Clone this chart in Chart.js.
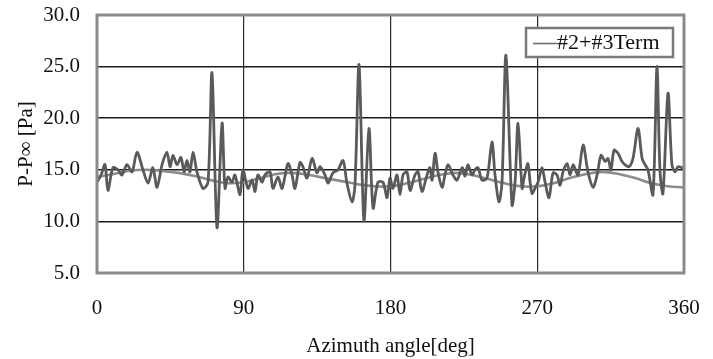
<!DOCTYPE html>
<html>
<head>
<meta charset="utf-8">
<script src="https://cdn.jsdelivr.net/npm/chart.js@4.4.0/dist/chart.umd.min.js"></script>
<style>
  html, body { margin: 0; padding: 0; background: #fff; }
</style>
</head>
<body>
<canvas id="chartCanvas" width="713" height="359"></canvas>
<script>
// measured pressure around the rotor, azimuth in degrees
const noisyAngle = [0, 2.5, 4.9, 6.7, 9.8, 12.9, 15.3, 18.4, 21.5, 24.5, 28.2, 31.3, 34.3, 36.8, 39.9, 42.9, 44.8, 46.6, 49.1, 51.5,
  53.4, 55.2, 57.0, 58.9, 61.3, 65.0, 68.1, 70.5, 73.6, 76.7, 78.5, 80.3, 82.8, 84.6, 87.7, 89.5, 92.6, 95.1, 96.9, 98.7,
  101.2, 103.0, 106.1, 107.9, 111.0, 113.5, 117.1, 119.6, 121.4, 124.5, 126.3, 128.8, 131.9, 134.9, 136.8, 139.8, 141.7, 144.7, 147.8, 150.9,
  153.3, 156.4, 158.2, 160.7, 163.7, 166.8, 169.3, 172.3, 175.4, 177.9, 179.7, 181.5, 184.0, 185.8, 187.7, 190.1, 192.0, 195.0, 196.9, 199.3,
  202.4, 204.2, 205.5, 207.3, 209.1, 211.6, 213.4, 215.3, 218.3, 220.8, 223.9, 225.7, 227.5, 230.0, 231.8, 233.7, 236.1, 239.2, 242.2, 244.1,
  246.5, 248.4, 250.8, 254.5, 256.4, 258.2, 260.7, 261.9, 264.3, 265.6, 266.8, 268.6, 270.5, 272.9, 274.8, 277.2, 279.7, 282.1, 284.0, 285.8,
  288.3, 290.1, 292.0, 295.0, 298.1, 301.1, 304.2, 306.7, 309.1, 311.6, 313.4, 315.2, 317.1, 319.5, 322.0, 323.8, 326.3, 328.7, 331.8, 334.3,
  336.1, 337.9, 341.0, 343.4, 345.3, 347.1, 350.2, 352.6, 354.5, 356.3, 358.8, 360];
const noisyValue = [13.8, 14.5, 15.5, 13.0, 15.2, 15.0, 14.5, 15.5, 14.8, 16.7, 15.0, 13.7, 15.2, 13.3, 15.5, 16.7, 15.3, 16.4, 15.5, 16.2,
  14.8, 15.9, 14.8, 16.7, 14.8, 13.2, 13.8, 24.4, 9.4, 19.5, 13.2, 14.3, 13.8, 14.5, 12.6, 15.0, 13.2, 14.0, 12.9, 14.5,
  13.8, 14.5, 14.8, 13.2, 14.3, 13.2, 15.6, 14.5, 13.2, 15.7, 15.3, 14.2, 16.1, 14.7, 15.3, 14.5, 13.7, 14.7, 15.0, 15.9,
  13.7, 11.9, 13.5, 25.2, 10.1, 19.0, 11.3, 13.8, 13.8, 12.3, 14.2, 13.2, 14.5, 12.6, 14.5, 14.8, 13.0, 14.5, 14.8, 12.9,
  14.5, 15.2, 14.0, 16.6, 14.8, 13.3, 14.5, 15.5, 14.5, 14.0, 15.2, 14.4, 15.5, 14.5, 15.0, 15.2, 14.0, 14.2, 17.7, 14.5,
  11.9, 13.8, 26.1, 11.6, 13.8, 19.5, 13.2, 14.2, 15.6, 13.8, 12.7, 13.2, 13.8, 15.2, 13.8, 12.3, 14.7, 14.5, 13.5, 14.8,
  15.6, 14.5, 15.5, 14.5, 17.4, 14.8, 13.3, 14.5, 16.4, 15.8, 16.1, 15.0, 16.9, 16.6, 15.8, 15.5, 15.3, 16.1, 19.0, 16.1,
  15.5, 15.0, 12.6, 25.0, 14.8, 12.7, 22.4, 15.5, 14.8, 15.3, 15.2, 15.0];

// harmonic fit (#2 + #3 terms)
const termAngle = [0, 10, 20, 30, 40, 50, 60, 70, 80, 90, 100, 110, 120, 130, 140, 150, 160, 170, 180,
  190, 200, 210, 220, 230, 240, 250, 260, 270, 280, 290, 300, 310, 320, 330, 340, 350, 360];
const termValue = [14.3, 14.6, 14.9, 15.0, 14.9, 14.7, 14.4, 14.0, 13.7, 13.8, 14.2, 14.6, 14.7, 14.5, 14.2, 13.9, 13.6, 13.4, 13.4,
  13.7, 14.1, 14.5, 14.7, 14.5, 14.1, 13.7, 13.4, 13.4, 13.7, 14.2, 14.6, 14.8, 14.6, 14.2, 13.7, 13.4, 13.3];

const xTicks = [0, 90, 180, 270, 360];
const yTicks = [5, 10, 15, 20, 25, 30];

const serif = '"Liberation Serif", "DejaVu Serif", serif';

function toPoints(xs, ys) {
  return xs.map((x, i) => ({ x: x, y: ys[i] }));
}

// frame round the plot plus the boxed legend in the upper right
const frameAndLegend = {
  id: 'frameAndLegend',
  afterDraw(chart) {
    const ctx = chart.ctx;
    const a = chart.chartArea;
    ctx.save();
    ctx.strokeStyle = '#8a8a8a';
    ctx.lineWidth = 3;
    ctx.strokeRect(a.left, a.top, a.right - a.left, a.bottom - a.top);

    const ds = chart.data.datasets[1];
    const bx = 526, by = 28, bw = 147, bh = 29;
    ctx.fillStyle = '#fff';
    ctx.fillRect(bx, by, bw, bh);
    ctx.strokeStyle = '#7a7a7a';
    ctx.lineWidth = 2.5;
    ctx.strokeRect(bx, by, bw, bh);
    ctx.strokeStyle = '#6e6e6e';
    ctx.lineWidth = 1.6;
    ctx.beginPath();
    ctx.moveTo(bx + 7, by + bh / 2 + 1);
    ctx.lineTo(bx + 31, by + bh / 2 + 1);
    ctx.stroke();
    ctx.fillStyle = '#111';
    ctx.font = '22px ' + serif;
    ctx.textBaseline = 'middle';
    ctx.fillText(ds.label, bx + 31, by + bh / 2 + 1);
    ctx.restore();
  }
};

new Chart(document.getElementById('chartCanvas').getContext('2d'), {
  type: 'line',
  data: {
    datasets: [
      {
        label: 'measured',
        data: toPoints(noisyAngle, noisyValue),
        borderColor: '#5a5a5a',
        borderWidth: 2.8,
        pointRadius: 0,
        tension: 0.3,
        fill: false
      },
      {
        label: '#2+#3Term',
        data: toPoints(termAngle, termValue),
        borderColor: '#8c8c8c',
        borderWidth: 2.6,
        pointRadius: 0,
        tension: 0.4,
        fill: false
      }
    ]
  },
  options: {
    responsive: false,
    animation: false,
    layout: { padding: { top: 15, right: 29, bottom: 0, left: 0 } },
    plugins: {
      legend: { display: false },
      tooltip: { enabled: false }
    },
    scales: {
      x: {
        type: 'linear',
        min: 0,
        max: 360,
        afterBuildTicks: (s) => { s.ticks = xTicks.map(v => ({ value: v })); },
        afterFit: (s) => {
          s.height = 86;
          s.paddingLeft = 0;
          s.paddingRight = 0;
        },
        border: { display: false },
        grid: {
          drawTicks: false,
          color: (c) => (c.tick && (c.tick.value === 0 || c.tick.value === 360)) ? 'rgba(0,0,0,0)' : '#2a2a2a',
          lineWidth: 1.2
        },
        ticks: {
          padding: 23,
          color: '#111',
          font: { family: serif, size: 21 },
          callback: (v) => String(v)
        },
        title: {
          display: true,
          text: 'Azimuth angle[deg]',
          color: '#111',
          font: { family: serif, size: 21 },
          padding: { top: 0, bottom: 0 }
        }
      },
      y: {
        min: 5,
        max: 30,
        afterBuildTicks: (s) => { s.ticks = yTicks.map(v => ({ value: v })); },
        afterFit: (s) => {
          s.width = 97;
          s.paddingTop = 0;
          s.paddingBottom = 0;
        },
        border: { display: false },
        grid: {
          drawTicks: false,
          color: (c) => (c.tick && (c.tick.value === 5 || c.tick.value === 30)) ? 'rgba(0,0,0,0)' : '#1a1a1a',
          lineWidth: 1.5
        },
        ticks: {
          padding: 17,
          color: '#111',
          font: { family: serif, size: 21 },
          callback: (v) => Number(v).toFixed(1)
        },
        title: {
          display: true,
          text: 'P-P∞ [Pa]',
          color: '#111',
          font: { family: serif, size: 21 },
          padding: { top: 14, bottom: 0 }
        }
      }
    }
  },
  plugins: [frameAndLegend]
});
</script>
</body>
</html>
